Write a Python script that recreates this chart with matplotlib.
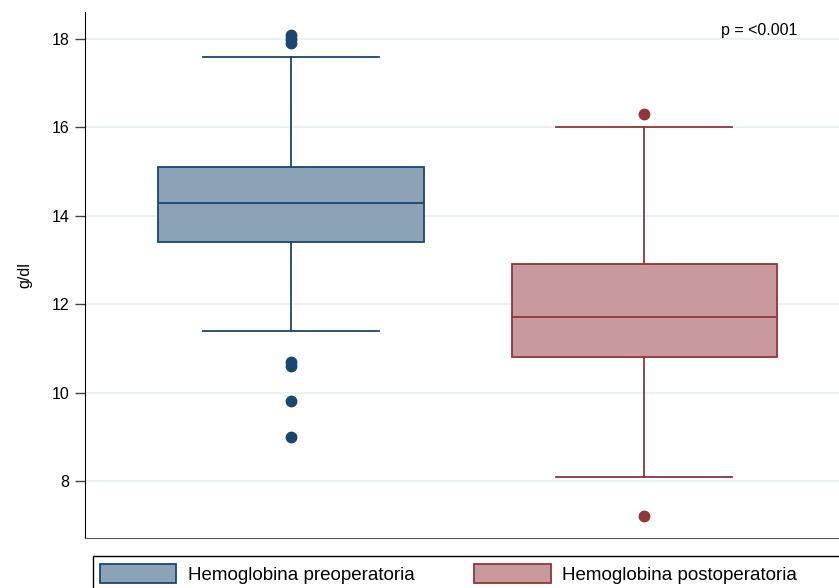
import matplotlib.pyplot as plt
from matplotlib.patches import Patch, Rectangle

plt.rcParams['font.family'] = ['Liberation Sans', 'DejaVu Sans']

# Box statistics (g/dl)
groups = ['Hemoglobina preoperatoria', 'Hemoglobina postoperatoria']
q1 = [13.4, 10.8]
med = [14.3, 11.7]
q3 = [15.1, 12.9]
whislo = [11.4, 8.1]
whishi = [17.6, 16.0]
fliers = [[18.1, 18.0, 17.9, 10.7, 10.6, 9.8, 9.0], [16.3, 7.2]]

edge_colors = ['#1a476f', '#90353b']
fill_colors = ['#8ca3b7', '#c89a9d']

fig = plt.figure(figsize=(8.39, 5.88), dpi=100)
ax = fig.add_axes([85/839, 50/588, (839-85)/839, (538-12)/588])

stats = []
for i in range(len(groups)):
    stats.append(dict(label=groups[i], q1=q1[i], med=med[i], q3=q3[i],
                      whislo=whislo[i], whishi=whishi[i], fliers=fliers[i]))

for i, s in enumerate(stats):
    c = edge_colors[i]
    ax.bxp([s], positions=[i + 1], widths=0.751, capwidths=0.5,
           patch_artist=True, manage_ticks=False,
           boxprops=dict(facecolor=fill_colors[i], edgecolor=c, linewidth=1.3),
           medianprops=dict(color=c, linewidth=1.3),
           whiskerprops=dict(color=c, linewidth=1.3),
           capprops=dict(color=c, linewidth=1.3),
           flierprops=dict(marker='o', markerfacecolor=c, markeredgecolor=c,
                           markersize=7.5, linestyle='none'))

ax.set_xlim(0.4164, 2.552)
ax.set_ylim(6.71, 18.61)
ax.set_yticks([8, 10, 12, 14, 16, 18])
ax.set_xticks([])
ax.tick_params(axis='y', direction='out', length=7, width=1, color='#444444',
               labelsize=11.5, pad=4)
ax.yaxis.grid(True, color='#eaf2f3', linewidth=1.5)
ax.set_axisbelow(True)

ax.spines['top'].set_visible(False)
ax.spines['right'].set_visible(False)
ax.spines['left'].set_color('black')
ax.spines['bottom'].set_color('#555555')

ax.set_ylabel('g/dl', fontsize=11.5, labelpad=14)

ax.text(2.218, 18.2, 'p = <0.001', fontsize=11.5, ha='left', va='center')

# legend
handles = [Patch(facecolor=fill_colors[i], edgecolor=edge_colors[i], linewidth=1.3)
           for i in range(len(groups))]
fig.legend(handles, groups, loc='upper left', ncol=2,
           bbox_to_anchor=(93/839, 1 - 557/588), borderaxespad=0,
           frameon=False, fontsize=13.5, handlelength=4.1, handleheight=1.2,
           handletextpad=0.62, columnspacing=3.15, borderpad=0.35)
fig.patches.append(Rectangle((93/839, -0.05), 0.95, 0.05 + 32/588,
                             transform=fig.transFigure, fill=False,
                             edgecolor='black', linewidth=1))

fig.savefig('out.png', dpi=100)
